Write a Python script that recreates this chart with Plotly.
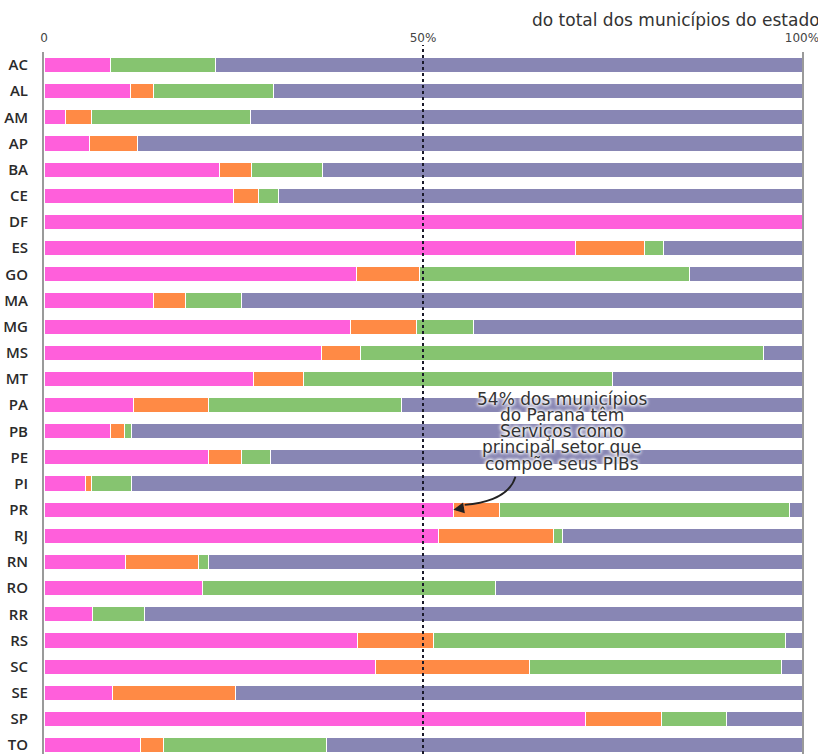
import plotly.graph_objects as go

states = ["AC", "AL", "AM", "AP", "BA", "CE", "DF", "ES", "GO", "MA", "MG", "MS", "MT", "PA",
          "PB", "PE", "PI", "PR", "RJ", "RN", "RO", "RR", "RS", "SC", "SE", "SP", "TO"]

servicos =     [8.8, 11.4, 2.9, 6.0, 23.1, 25.0, 100, 70.1, 41.2, 14.5, 40.4, 36.6, 27.7, 11.8,
                8.8, 21.7, 5.5, 54.0, 52.0, 10.7, 20.9, 6.4, 41.4, 43.7, 9.1, 71.5, 12.7]
industria =    [0.0, 3.0, 3.4, 6.3, 4.3, 3.3, 0, 9.1, 8.3, 4.2, 8.7, 5.1, 6.5, 9.9,
                1.8, 4.4, 0.7, 6.1, 15.2, 9.7, 0.0, 0.0, 10.0, 20.4, 16.1, 9.9, 3.0]
agropecuaria = [13.8, 15.9, 20.9, 0.0, 9.4, 2.7, 0, 2.5, 35.7, 7.4, 7.5, 53.2, 40.8, 25.5,
                1.0, 3.8, 5.3, 38.3, 1.2, 1.3, 38.7, 6.8, 46.4, 33.2, 0.0, 8.7, 21.6]
administracao = [77.4, 69.7, 72.8, 87.7, 63.2, 69.0, 0, 18.3, 14.8, 73.9, 43.4, 5.1, 25.0, 52.8,
                 88.4, 70.1, 88.5, 1.6, 31.6, 78.3, 40.4, 86.8, 2.2, 2.7, 74.8, 9.9, 62.7]

series = [
    ("Serviços", servicos, "#FF5FDB"),
    ("Indústria", industria, "#FF8A45"),
    ("Agropecuária", agropecuaria, "#86C470"),
    ("Administração pública", administracao, "#8886B4"),
]

tick_vals = [0, 50, 100]
tick_text = ["0", "50%", "100%"]

callout_lines = ["54% dos municípios", "do Paraná têm", "Serviços como",
                 "principal setor que", "compõe seus PIBs"]

FONT = "DejaVu Sans"

fig = go.Figure()
for name, vals, color in series:
    fig.add_trace(go.Bar(
        y=states, x=vals, name=name, orientation="h",
        marker=dict(color=color, line=dict(color="white", width=1)),
        width=0.58, hoverinfo="x+y+name",
    ))

fig.update_layout(
    barmode="stack",
    width=818, height=754,
    margin=dict(l=44, r=16, t=52, b=0, autoexpand=False),
    paper_bgcolor="white", plot_bgcolor="white",
    showlegend=False,
    font=dict(family=FONT, color="#333333"),
)

fig.update_xaxes(
    range=[0, 100], side="top", tickvals=tick_vals, ticktext=tick_text,
    showgrid=False, zeroline=False, showline=False, ticks="",
    tickfont=dict(size=12, color="#444444", family=FONT), ticklabelstandoff=7,
    ticklabeloverflow="allow", automargin=False,
)
fig.update_yaxes(
    categoryorder="array", categoryarray=states,
    range=[26.34, -0.5], showgrid=False, zeroline=False,
    showline=True, mirror=True, linecolor="#9a9a9a", linewidth=2,
    ticks="", tickfont=dict(size=15, color="#2a2a2a", family="Open Sans", weight=600),
    ticklabelstandoff=11, automargin=False,
)

# 50% reference line
fig.add_shape(type="line", xref="x", yref="paper", x0=50, x1=50, y0=0, y1=1.01,
              line=dict(color="#1a1a2a", width=2, dash="dot"))

# title
fig.add_annotation(text="do total dos municípios do estado", xref="paper", yref="paper",
                   x=1.026, y=1.046, xanchor="right", yanchor="middle", showarrow=False,
                   font=dict(size=17, color="#333333", family=FONT))

# callout text, one line at a time for tight line spacing
halo = "0px 0px 3px white, 0px 0px 3px white, 0px 0px 4px white, 0px 0px 4px white"
center_idx = states.index("PB")
for i, line in enumerate(callout_lines):
    fig.add_annotation(
        text=line, xref="x", yref="y", x=68.3, y=center_idx + (i - 2) * 0.62,
        xanchor="center", yanchor="middle", showarrow=False,
        font=dict(size=17, color="#333333", family=FONT, shadow=halo),
    )

# curved arrow stem toward PR
fig.add_shape(type="path", xref="x", yref="paper",
              path="M 62.2,0.395 Q 61.2,0.36 55.5,0.355",
              line=dict(color="#222222", width=1.8))
# arrowhead at PR bar
fig.add_annotation(
    text="", xref="x", yref="y", x=54, y="PR", ax=12, ay=-2,
    showarrow=True, arrowhead=2, arrowsize=1.2, arrowwidth=1.8, arrowcolor="#222222",
)

fig.write_html("out.html", config={"displayModeBar": False},
               post_script="document.body.style.margin='0';")
